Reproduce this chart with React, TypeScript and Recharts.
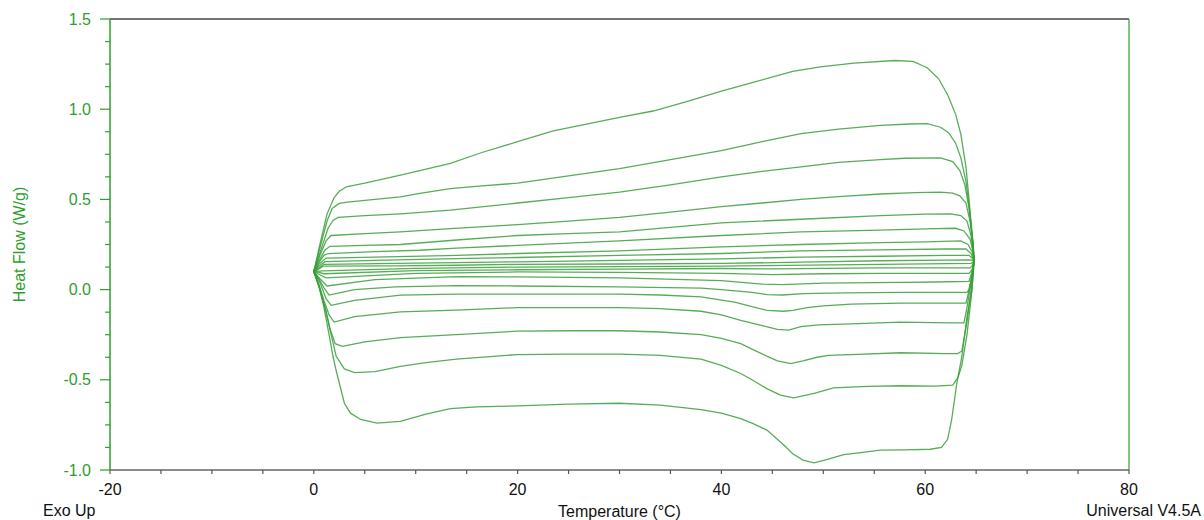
import { LineChart, Line, XAxis, YAxis, ReferenceLine, Label } from "recharts";

// DSC loops, temperature (°C) vs heat flow (W/g); each run is a closed loop
// upper branch left -> right, then lower branch right -> left
type Pt = [number, number];

const run1: Pt[] = [
  [0, 0.1], [0.6, 0.25], [1.3, 0.42], [2.0, 0.51], [2.5, 0.545], [3.2, 0.57], [5, 0.59], [8.5, 0.634],
  [10.4, 0.66], [13.4, 0.7], [16.5, 0.76], [20, 0.82], [23.5, 0.88], [27, 0.92], [30, 0.955], [33.3, 0.99],
  [36.5, 1.04], [40, 1.1], [43.2, 1.15], [47, 1.21], [49.7, 1.235], [53, 1.255], [57, 1.27], [58.8, 1.265],
  [60.2, 1.23], [61.3, 1.17], [62.2, 1.08], [63, 0.97], [63.5, 0.86], [64.0, 0.68], [64.3, 0.5], [64.6, 0.3],
  [64.8, 0.16], [64.6, 0.0], [64.1, -0.15], [63.6, -0.37], [63.1, -0.52], [62.6, -0.72], [62.2, -0.83],
  [61.6, -0.875], [60.5, -0.885], [58, -0.888], [55.6, -0.89], [53.5, -0.905], [52, -0.915], [50.5, -0.94],
  [49.1, -0.96], [48, -0.945], [47, -0.91], [46.1, -0.86], [44.5, -0.78], [43, -0.74], [41.9, -0.715],
  [40, -0.685], [38, -0.665], [34, -0.64], [30, -0.63], [25, -0.635], [20, -0.645], [16, -0.65],
  [13.4, -0.66], [11, -0.69], [8.5, -0.73], [6.2, -0.74], [4.6, -0.72], [3.6, -0.685], [3.0, -0.63],
  [2.6, -0.54], [2.2, -0.45], [1.9, -0.375], [1.5, -0.25], [1.0, -0.1], [0.5, 0.02], [0, 0.1],
];

const run2: Pt[] = [
  [0, 0.1], [0.6, 0.23], [1.3, 0.38], [1.8, 0.45], [2.5, 0.478], [3.3, 0.485], [6, 0.5], [8.5, 0.514],
  [10.4, 0.533], [13.4, 0.56], [16.5, 0.575], [20, 0.59], [25, 0.63], [30, 0.67], [35, 0.72], [40, 0.77],
  [44, 0.82], [47.8, 0.865], [51.5, 0.89], [55.6, 0.91], [58.5, 0.918], [60.2, 0.92], [61.5, 0.9],
  [62.3, 0.87], [63, 0.81], [63.5, 0.73], [64.0, 0.6], [64.4, 0.42], [64.7, 0.26], [64.8, 0.16],
  [64.5, -0.05], [64.1, -0.25], [63.6, -0.42], [63.2, -0.49], [62.7, -0.53], [61, -0.535], [57.6, -0.533],
  [54.4, -0.537], [51, -0.545], [49.1, -0.575], [47.1, -0.6], [45.8, -0.585], [44.5, -0.55], [43, -0.5],
  [41.9, -0.465], [40, -0.42], [38, -0.385], [34, -0.365], [30, -0.358], [25, -0.358], [20, -0.36],
  [14, -0.385], [11, -0.405], [8.5, -0.425], [6, -0.455], [4, -0.46], [3.0, -0.44], [2.2, -0.37],
  [1.7, -0.25], [1.2, -0.12], [0.6, 0.0], [0, 0.1],
];

const run3: Pt[] = [
  [0, 0.1], [0.7, 0.22], [1.4, 0.34], [1.9, 0.385], [2.4, 0.4], [5, 0.41], [8.5, 0.42], [13.4, 0.44],
  [20, 0.48], [25, 0.51], [30, 0.54], [35, 0.58], [40, 0.625], [44, 0.655], [47.8, 0.68], [51.5, 0.705],
  [55.6, 0.72], [58, 0.728], [61.5, 0.73], [62.7, 0.71], [63.4, 0.66], [63.9, 0.58], [64.3, 0.45],
  [64.7, 0.25], [64.8, 0.16], [64.5, 0.0], [64.1, -0.18], [63.6, -0.34], [63.2, -0.355], [62, -0.355],
  [57.6, -0.35], [52.7, -0.36], [50.5, -0.365], [49.4, -0.375], [48, -0.395], [46.8, -0.41], [45.5, -0.395],
  [44.5, -0.37], [43, -0.33], [41.9, -0.3], [40, -0.27], [38, -0.25], [34, -0.235], [30, -0.228],
  [25, -0.228], [20, -0.23], [14, -0.25], [8.5, -0.266], [5, -0.29], [2.8, -0.315], [2.1, -0.3],
  [1.6, -0.22], [1.1, -0.1], [0.5, 0.02], [0, 0.1],
];

const run4: Pt[] = [
  [0, 0.1], [0.6, 0.19], [1.2, 0.27], [1.7, 0.3], [5, 0.31], [8.5, 0.32], [13.4, 0.338], [20, 0.36],
  [25, 0.38], [30, 0.4], [35, 0.43], [40, 0.46], [44, 0.48], [47.8, 0.5], [51.5, 0.515], [55.6, 0.53],
  [59, 0.537], [61.5, 0.54], [62.7, 0.535], [63.4, 0.52], [64, 0.48], [64.4, 0.38], [64.7, 0.25],
  [64.8, 0.16], [64.5, 0.04], [64.1, -0.1], [63.8, -0.185], [62.5, -0.185], [57.6, -0.18], [52.7, -0.19],
  [49.5, -0.195], [47.8, -0.205], [46.6, -0.225], [45.5, -0.22], [44, -0.2], [41.9, -0.17], [40, -0.14],
  [38, -0.12], [34, -0.105], [30, -0.1], [20, -0.1], [14, -0.114], [8.5, -0.124], [4, -0.15], [2.0, -0.18],
  [1.5, -0.14], [1.0, -0.06], [0.5, 0.03], [0, 0.1],
];

const run5: Pt[] = [
  [0, 0.1], [0.6, 0.17], [1.1, 0.22], [1.6, 0.24], [5, 0.245], [8.5, 0.25], [14, 0.275], [20, 0.3],
  [25, 0.31], [30, 0.32], [35, 0.345], [40, 0.37], [47.8, 0.39], [55.6, 0.41], [60, 0.418], [62.5, 0.42],
  [63.5, 0.41], [64.1, 0.38], [64.5, 0.3], [64.8, 0.16], [64.5, 0.05], [64.2, -0.03], [64.0, -0.075],
  [61, -0.075], [57.6, -0.075], [52.7, -0.08], [50, -0.09], [48.4, -0.1], [47, -0.115], [46.1, -0.12],
  [44.5, -0.115], [43, -0.095], [41.3, -0.07], [38, -0.04], [34, -0.03], [30, -0.025], [20, -0.025],
  [14, -0.025], [8.5, -0.031], [4, -0.06], [1.7, -0.087], [1.2, -0.05], [0.6, 0.04], [0, 0.1],
];

const run6: Pt[] = [
  [0, 0.1], [0.5, 0.15], [1.0, 0.19], [1.4, 0.2], [6, 0.21], [10.4, 0.218], [14, 0.23], [20, 0.245],
  [30, 0.27], [40, 0.3], [47.8, 0.32], [55.6, 0.33], [60, 0.337], [63, 0.34], [63.8, 0.325], [64.4, 0.28],
  [64.7, 0.21], [64.8, 0.16], [64.6, 0.08], [64.3, 0.0], [64.1, -0.015], [61, -0.015], [57.6, -0.015],
  [52, -0.018], [48, -0.022], [46, -0.03], [44.5, -0.028], [43, -0.015], [40, 0.0], [38, 0.008],
  [30, 0.015], [20, 0.02], [14, 0.022], [8, 0.015], [4, 0.0], [1.5, -0.03], [1.0, 0.01], [0.5, 0.06],
  [0, 0.1],
];

const run7: Pt[] = [
  [0, 0.1], [0.5, 0.14], [1.2, 0.175], [6, 0.18], [14, 0.19], [20, 0.2], [30, 0.215], [40, 0.237],
  [47.8, 0.25], [55.6, 0.26], [60, 0.265], [63.5, 0.27], [64.2, 0.25], [64.6, 0.21], [64.8, 0.16],
  [64.6, 0.1], [64.3, 0.045], [61, 0.042], [57.6, 0.04], [50, 0.036], [46, 0.028], [44, 0.03], [40, 0.05],
  [30, 0.065], [20, 0.07], [14, 0.072], [6, 0.055], [1.3, 0.02], [0.6, 0.06], [0, 0.1],
];

const run8: Pt[] = [
  [0, 0.1], [0.5, 0.13], [1.1, 0.155], [6, 0.162], [14, 0.172], [20, 0.178], [30, 0.19], [40, 0.2],
  [47.8, 0.215], [55.6, 0.22], [62, 0.225], [64.0, 0.225], [64.5, 0.2], [64.8, 0.16], [64.6, 0.11],
  [64.3, 0.09], [60, 0.09], [55.6, 0.09], [50, 0.088], [45, 0.083], [40, 0.09], [30, 0.095], [20, 0.098],
  [10, 0.09], [1.2, 0.065], [0.5, 0.085], [0, 0.1],
];

const run9: Pt[] = [
  [0, 0.1], [0.5, 0.12], [1.0, 0.14], [8, 0.145], [14, 0.15], [20, 0.154], [30, 0.162], [40, 0.17],
  [47.8, 0.18], [55.6, 0.185], [62, 0.19], [64.3, 0.19], [64.6, 0.175], [64.8, 0.16], [64.6, 0.13],
  [64.4, 0.12], [55.6, 0.12], [45, 0.115], [40, 0.117], [30, 0.114], [20, 0.11], [10, 0.105],
  [1.0, 0.088], [0.5, 0.095], [0, 0.1],
];

const run10: Pt[] = [
  [0, 0.1], [0.5, 0.115], [0.9, 0.13], [8, 0.132], [14, 0.135], [20, 0.14], [30, 0.142], [40, 0.145],
  [47.8, 0.152], [55.6, 0.16], [62, 0.163], [64.4, 0.165], [64.8, 0.16], [64.5, 0.145], [55.6, 0.14],
  [40, 0.13], [20, 0.125], [10, 0.118], [0.9, 0.104], [0, 0.1],
];

const runs = [run1, run2, run3, run4, run5, run6, run7, run8, run9, run10];

const xTicks = [-20, -15, -10, -5, 0, 5, 10, 15, 20, 25, 30, 35, 40, 45, 50, 55, 60, 65, 70, 75, 80];
const yTicks = [
  -1, -0.875, -0.75, -0.625, -0.5, -0.375, -0.25, -0.125, 0, 0.125, 0.25, 0.375, 0.5, 0.625, 0.75,
  0.875, 1, 1.125, 1.25, 1.375, 1.5,
];

const GREEN = "#2e9e2e";
const LINE = "#3a9f3a";
const FONT = "'Liberation Sans', Arial, sans-serif";

const Y_TICK = 10;
const Y_MARGIN = 9;
const X_TICK = 4;
const X_MARGIN = 10;

const isMajorY = (v: number) => Math.abs(v * 2 - Math.round(v * 2)) < 1e-9;

// y ticks: long ticks with labels every 0.5, short unlabeled ones between
const YTick = (props: any) => {
  const { x, y, payload } = props;
  const v = payload.value as number;
  const axisX = x + Y_TICK + Y_MARGIN;
  const major = isMajorY(v);
  return (
    <g>
      <line x1={axisX - (major ? Y_TICK : 5)} x2={axisX} y1={y} y2={y} stroke={GREEN} strokeWidth={1.2} />
      {major && (
        <text x={x} y={y} dy="0.355em" textAnchor="end" fill={GREEN} fontSize={16} fontFamily={FONT}>
          {v.toFixed(1)}
        </text>
      )}
    </g>
  );
};

const XTick = (props: any) => {
  const { x, y, payload } = props;
  const v = payload.value as number;
  const axisY = y - X_TICK - X_MARGIN;
  return (
    <g>
      <line x1={x} x2={x} y1={axisY} y2={axisY + X_TICK} stroke="#555" strokeWidth={1.2} />
      {v % 20 === 0 && (
        <text x={x} y={y} dy="0.71em" textAnchor="middle" fill="#111" fontSize={16} fontFamily={FONT}>
          {String(v)}
        </text>
      )}
    </g>
  );
};

export default function App() {
  return (
    <div
      style={{
        position: "absolute",
        left: 0,
        top: 0,
        width: 1204,
        height: 520,
        background: "#fff",
        fontFamily: FONT,
      }}
    >
      <LineChart width={1204} height={520} margin={{ top: 19, right: 75, bottom: 0, left: 0 }}>
        <XAxis
          type="number"
          dataKey="t"
          domain={[-20, 80]}
          ticks={xTicks}
          interval={0}
          height={50}
          allowDataOverflow
          axisLine={{ stroke: "#666", strokeWidth: 1.5 }}
          tickLine={false}
          tickSize={X_TICK}
          tickMargin={X_MARGIN}
          tick={<XTick />}
        >
          <Label
            value="Temperature (°C)"
            position="insideBottom"
            offset={3}
            style={{ fill: "#111", fontSize: 16, fontFamily: FONT }}
          />
        </XAxis>
        <YAxis
          type="number"
          domain={[-1, 1.5]}
          ticks={yTicks}
          interval={0}
          width={110}
          allowDataOverflow
          axisLine={{ stroke: GREEN, strokeWidth: 1.5 }}
          tickLine={false}
          tickSize={Y_TICK}
          tickMargin={Y_MARGIN}
          tick={<YTick />}
        >
          <Label
            value="Heat Flow (W/g)"
            angle={-90}
            position="insideLeft"
            offset={19}
            style={{ fill: GREEN, fontSize: 16, fontFamily: FONT, textAnchor: "middle" }}
          />
        </YAxis>
        <ReferenceLine y={1.5} stroke="#444" strokeWidth={1.5} />
        <ReferenceLine x={80} stroke={GREEN} strokeWidth={1.2} />
        {runs.map((run, i) => (
          <Line
            key={"run" + i}
            name={"run" + (i + 1)}
            data={run.map(([t, v]) => ({ t, v }))}
            dataKey="v"
            type="linear"
            stroke={LINE}
            strokeWidth={1.3}
            strokeOpacity={0.85}
            dot={false}
            activeDot={false}
            isAnimationActive={false}
          />
        ))}
      </LineChart>
      <div style={{ position: "absolute", left: 43, top: 502, fontSize: 16, color: "#111" }}>Exo Up</div>
      <div style={{ position: "absolute", right: 3, top: 502, fontSize: 16, color: "#111" }}>
        Universal V4.5A
      </div>
    </div>
  );
}
